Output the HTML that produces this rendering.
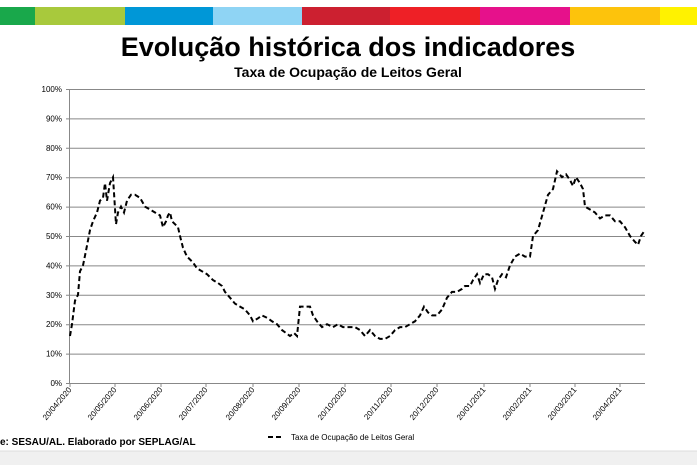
<!DOCTYPE html>
<html><head><meta charset="utf-8"><style>
html,body{margin:0;padding:0;width:697px;height:465px;overflow:hidden;background:#fff;font-family:"Liberation Sans",sans-serif}
</style></head><body>
<svg width="697" height="465" xmlns="http://www.w3.org/2000/svg" font-family="Liberation Sans, sans-serif">
<rect x="0" y="7" width="35" height="18" fill="#19a84b"/>
<rect x="35" y="7" width="90" height="18" fill="#a8c93c"/>
<rect x="125" y="7" width="88" height="18" fill="#0097d7"/>
<rect x="213" y="7" width="89" height="18" fill="#8fd4f4"/>
<rect x="302" y="7" width="88" height="18" fill="#cc2030"/>
<rect x="390" y="7" width="90" height="18" fill="#ee2026"/>
<rect x="480" y="7" width="90" height="18" fill="#e6118b"/>
<rect x="570" y="7" width="90" height="18" fill="#fdc30c"/>
<rect x="660" y="7" width="37" height="18" fill="#fff200"/>
<text x="348" y="56" text-anchor="middle" font-size="27" font-weight="bold">Evolução histórica dos indicadores</text>
<text x="348" y="77" text-anchor="middle" font-size="14" font-weight="bold">Taxa de Ocupação de Leitos Geral</text>
<g id="grid" stroke="#888" stroke-width="1"></g>
<g id="lab" font-size="8" fill="#000"></g>
<line x1="69.5" y1="89" x2="69.5" y2="383" stroke="#888"/>
<path id="ser" fill="none" stroke="#000" stroke-width="2" stroke-dasharray="5,3"/>
<line x1="268" y1="437" x2="284" y2="437" stroke="#000" stroke-width="2" stroke-dasharray="5,3"/>
<text x="291" y="440" font-size="8">Taxa de Ocupação de Leitos Geral</text>
<text x="0" y="445" font-size="10" font-weight="bold">e: SESAU/AL. Elaborado por SEPLAG/AL</text>
<rect x="0" y="451" width="697" height="14" fill="#f0f0f0"/>
<line x1="0" y1="451" x2="697" y2="451" stroke="#ddd"/>
</svg>
<script>
var ns="http://www.w3.org/2000/svg",g=document.getElementById('grid'),l=document.getElementById('lab');
for(var i=0;i<=10;i++){var y=383-i*29.4;var ln=document.createElementNS(ns,'line');ln.setAttribute('x1',66);ln.setAttribute('x2',645);ln.setAttribute('y1',y+0.5);ln.setAttribute('y2',y+0.5);g.appendChild(ln);
var t=document.createElementNS(ns,'text');t.setAttribute('x',62);t.setAttribute('y',y+3);t.setAttribute('text-anchor','end');t.textContent=(i*10)+'%';l.appendChild(t);}
var d=["20/04/2020","20/05/2020","20/06/2020","20/07/2020","20/08/2020","20/09/2020","20/10/2020","20/11/2020","20/12/2020","20/01/2021","20/02/2021","20/03/2021","20/04/2021"];
var xs=[70,115,161,206,253,299,345,391,437,484,530,575,620];
for(var i=0;i<13;i++){var ln=document.createElementNS(ns,'line');ln.setAttribute('x1',xs[i]);ln.setAttribute('x2',xs[i]);ln.setAttribute('y1',383);ln.setAttribute('y2',387);g.appendChild(ln);
var t=document.createElementNS(ns,'text');t.setAttribute('text-anchor','end');t.setAttribute('transform','translate('+(xs[i]+2)+',390) rotate(-50)');t.textContent=d[i];l.appendChild(t);}
var p=[70,16,72,20,75,28,78,30,80,38,83,40,86,45,90,52,93,55,97,58,100,62,103,63,105,68,107,62,110,68,113,70,116,54,118,58,121,60,124,58,127,62,131,64,135,64,140,63,145,60,150,59,155,58,160,57,163,53,166,55,168,57,170,58,172,55,175,54,178,53,180,50,183,46,187,43,190,42,193,41,197,39,202,38,207,37,213,35,218,34,222,33,225,31,230,29,235,27,240,26,245,25,250,23,253,21,258,22,262,23,268,22,272,21,277,20,282,18,286,17,290,16,294,17,297,16,300,26,305,26,310,26,313,23,317,21,322,19,327,20,333,19,338,20,343,19,350,19,355,19,360,18,365,16,370,18,375,16,380,15,385,15,390,16,395,18,400,19,405,19,410,20,415,21,420,23,424,26,428,24,432,23,437,23,442,25,447,29,452,31,457,31,462,32,465,33,470,33,473,35,477,37,480,34,484,37,488,37,492,36,495,32,498,35,502,37,506,36,510,40,515,43,520,44,525,43,530,43,533,50,538,52,543,58,548,64,553,66,557,72,562,70,566,71,570,69,573,67,576,70,580,68,583,66,585,60,590,59,595,58,600,56,605,57,610,57,615,55,620,55,625,53,630,50,635,48,638,47,641,50,645,52];
var s="";for(var i=0;i<p.length;i+=2){s+=(i?"L":"M")+p[i]+","+(383-p[i+1]*2.94).toFixed(1);}
document.getElementById('ser').setAttribute('d',s);
</script>
</body></html>
